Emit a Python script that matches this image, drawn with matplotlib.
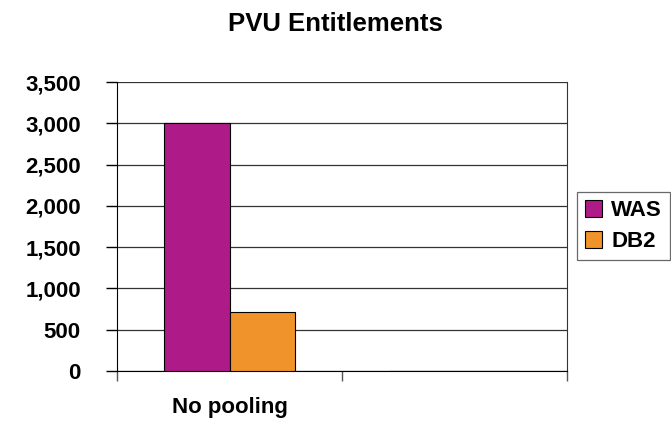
import matplotlib
matplotlib.use("Agg")
import matplotlib.pyplot as plt
import numpy as np
from matplotlib.ticker import FuncFormatter

categories = ["No pooling", ""]
series_names = ["WAS", "DB2"]
was_values = [3000, 0]
db2_values = [720, 0]
colors = ["#AE1A87", "#F0932B"]

plt.rcParams['font.family'] = ['Liberation Sans', 'DejaVu Sans']
plt.rcParams['font.weight'] = 'bold'

fig = plt.figure(figsize=(6.71, 4.21), dpi=100)
ax = fig.add_axes([0.1744, 0.1188, 0.845 - 0.1744, 0.8052 - 0.1188])

x = np.arange(len(categories)) + 0.5
w = 0.289
ax.bar(x - w / 2, was_values, w, color=colors[0], edgecolor="black", linewidth=0.8, label=series_names[0], zorder=3)
ax.bar(x + w / 2, db2_values, w, color=colors[1], edgecolor="black", linewidth=0.8, label=series_names[1], zorder=3)

ax.set_xlim(0, len(categories))
ax.set_ylim(0, 3500)
ax.set_yticks(np.arange(0, 3501, 500))
ax.yaxis.set_major_formatter(FuncFormatter(lambda v, p: f"{int(v):,}"))
ax.set_xticks(np.arange(0, len(categories) + 1))
ax.set_xticklabels([])
ax.set_xticks(x, minor=True)
ax.set_xticklabels(categories, minor=True, fontsize=16, fontweight='bold')
ax.tick_params(axis='x', which='minor', length=0, pad=19)
ax.tick_params(axis='x', which='major', length=7, width=1, direction='out', color='#555555')
ax.tick_params(axis='y', length=8, width=1, direction='out', labelsize=16, pad=18)
for lab in ax.get_yticklabels():
    lab.set_fontweight('bold')

ax.grid(axis='y', color='#333333', linewidth=0.9, zorder=0)
ax.spines['top'].set_visible(False)
ax.spines['right'].set_color('#333333')
ax.spines['left'].set_color('black')
ax.spines['bottom'].set_color('black')

fig.text(0.5, 1 - 24 / 421, "PVU Entitlements", ha='center', va='center', fontsize=18.5, fontweight='bold')

leg = ax.legend(loc='center left', bbox_to_anchor=(1.022, 0.502), frameon=True, fancybox=False,
                edgecolor='#444444', fontsize=16, handlelength=0.8, handleheight=0.8,
                handletextpad=0.4, borderpad=0.35, labelspacing=0.45, borderaxespad=0)
leg.get_frame().set_linewidth(0.9)
for t in leg.get_texts():
    t.set_fontweight('bold')

fig.savefig("out.png", dpi=100)
